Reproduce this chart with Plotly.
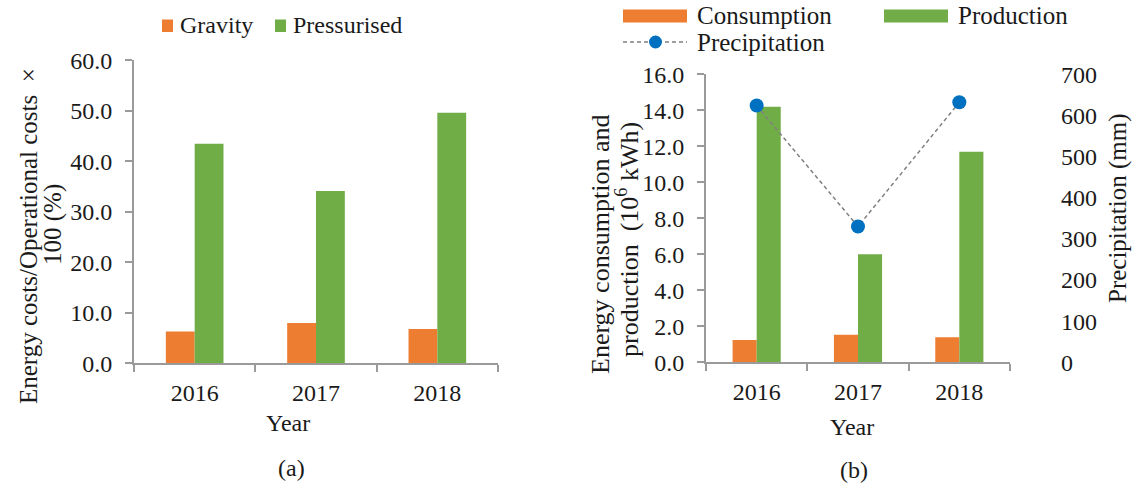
import plotly.graph_objects as go

W, H = 1136, 490

# ---- data ----
years = ["2016", "2017", "2018"]
gravity = [6.3, 8.0, 6.8]
pressurised = [43.5, 34.1, 49.6]
consumption = [1.24, 1.53, 1.39]
production = [14.2, 6.0, 11.7]
precipitation = [624, 330, 632]

ORANGE = "#ED7D31"
GREEN = "#70AD47"
BLUE = "#0070C0"
AXIS = "#9a9a9a"
TEXT = "#1a1a1a"
FONT = "Liberation Serif, Times New Roman, Times, serif"
FS = 24


def px(x):
    return x / W


def py(y):
    return 1 - y / H


fig = go.Figure()

# panel (a)
fig.add_trace(go.Bar(x=years, y=gravity, name="Gravity", marker_color=ORANGE,
                     xaxis="x", yaxis="y"))
fig.add_trace(go.Bar(x=years, y=pressurised, name="Pressurised", marker_color=GREEN,
                     xaxis="x", yaxis="y"))
# panel (b)
fig.add_trace(go.Bar(x=years, y=consumption, name="Consumption", marker_color=ORANGE,
                     xaxis="x2", yaxis="y2"))
fig.add_trace(go.Bar(x=years, y=production, name="Production", marker_color=GREEN,
                     xaxis="x2", yaxis="y2"))
fig.add_trace(go.Scatter(x=years, y=precipitation, name="Precipitation",
                         mode="lines+markers",
                         line=dict(color="#808080", width=1.5, dash="4px,3px"),
                         marker=dict(color=BLUE, size=14),
                         xaxis="x2", yaxis="y3"))

xcommon = dict(type="category", showline=True, linecolor=AXIS, linewidth=2,
               ticks="outside", ticklen=7, tickwidth=2, tickcolor=AXIS,
               tickson="boundaries", showgrid=False, zeroline=False,
               tickfont=dict(family=FONT, size=FS, color=TEXT),
               ticklabelstandoff=7, automargin=False, fixedrange=True)
ycommon = dict(showline=True, linecolor=AXIS, linewidth=2,
               ticks="outside", ticklen=7, tickwidth=2, tickcolor=AXIS,
               showgrid=False, zeroline=False, tickformat=".1f",
               tickfont=dict(family=FONT, size=FS, color=TEXT),
               ticklabelstandoff=8, automargin=False, fixedrange=True)

fig.update_layout(
    template="none",
    width=W, height=H, autosize=False,
    margin=dict(l=0, r=0, t=0, b=0, pad=0),
    paper_bgcolor="white", plot_bgcolor="white",
    barmode="group", bargap=0.525, bargroupgap=0,
    showlegend=False,
    font=dict(family=FONT, size=FS, color=TEXT),
    xaxis=dict(xcommon, domain=[px(134), px(498)], anchor="y"),
    yaxis=dict(ycommon, domain=[py(363.3), py(60.3)], range=[0, 60], dtick=10,
               anchor="x"),
    xaxis2=dict(xcommon, domain=[px(706), px(1010)], anchor="y2"),
    yaxis2=dict(ycommon, domain=[py(362.3), py(74.3)], range=[0, 16], dtick=2,
                anchor="x2"),
    yaxis3=dict(overlaying="y2", side="right", anchor="x2", range=[0, 700],
                dtick=100, showline=False, ticks="", showgrid=False,
                zeroline=False, tickformat="d",
                tickfont=dict(family=FONT, size=FS, color=TEXT),
                ticklabelstandoff=50, automargin=False, fixedrange=True),
)


def label(text, x, y, angle=0, xanchor="center", yanchor="middle", size=FS):
    fig.add_annotation(text=text, x=px(x), y=py(y), xref="paper", yref="paper",
                       showarrow=False, textangle=angle, xanchor=xanchor,
                       yanchor=yanchor, font=dict(family=FONT, size=size, color=TEXT))


# axis titles and captions
label("Energy costs/Operational costs \u00a0×", 28, 236, angle=-90, size=25)
label("100 (%)", 53, 225, angle=-90, size=25)
label("Year", 288, 423)
label("(a)", 291, 468)

label("Energy consumption and", 600, 245, angle=-90, size=26)
label("production \u00a0(10<sup>6</sup> kWh)", 627, 240, angle=-90, size=26)
label("Precipitation (mm)", 1118, 208, angle=-90, size=25)
label("Year", 852, 427)
label("(b)", 854, 470)

# legend (a)
for x0, color, text in [(162, ORANGE, "Gravity"), (275, GREEN, "Pressurised")]:
    fig.add_shape(type="rect", xref="paper", yref="paper",
                  x0=px(x0), x1=px(x0 + 11), y0=py(32), y1=py(19.5),
                  fillcolor=color, line_width=0)
    label(text, x0 + 16, 25, xanchor="left")

# legend (b)
for x0, y, color, text in [(623, 16, ORANGE, "Consumption"),
                           (884, 16, GREEN, "Production")]:
    fig.add_shape(type="rect", xref="paper", yref="paper",
                  x0=px(x0), x1=px(x0 + 64), y0=py(y + 6.5), y1=py(y - 6.5),
                  fillcolor=color, line_width=0)
    label(text, x0 + 72, y, xanchor="left", size=25)
fig.add_shape(type="line", xref="paper", yref="paper",
              x0=px(623), x1=px(687), y0=py(42), y1=py(42),
              line=dict(color="#808080", width=1.5, dash="4px,3px"))
fig.add_shape(type="circle", xref="paper", yref="paper",
              x0=px(649), x1=px(662), y0=py(48.5), y1=py(35.5),
              fillcolor=BLUE, line_width=0)
label("Precipitation", 695, 42, xanchor="left", size=25)

fig.write_html("out.html")
